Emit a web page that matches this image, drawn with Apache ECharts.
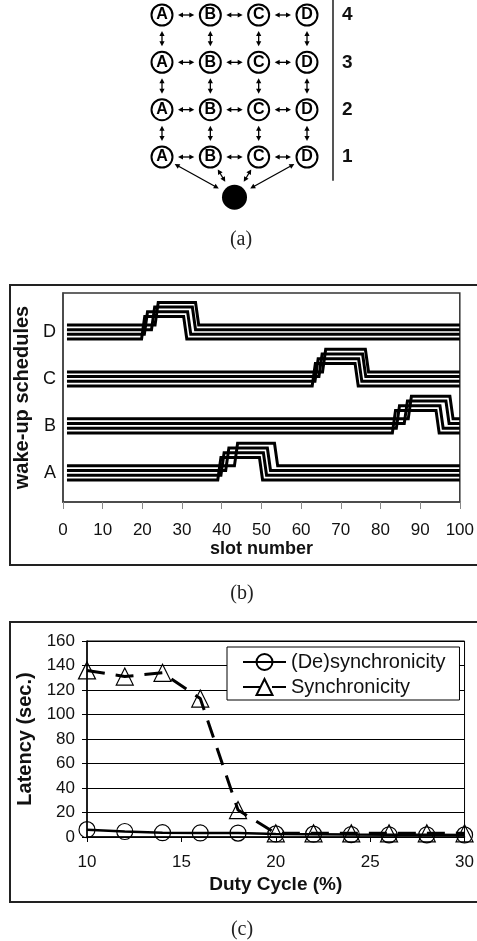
<!DOCTYPE html>
<html><head><meta charset="utf-8">
<script src="https://cdn.jsdelivr.net/npm/echarts@6/dist/echarts.min.js"></script>
<style>html,body{margin:0;padding:0;background:#fff;overflow:hidden}#c{width:477px;height:941px}</style>
</head><body><div id="c"></div>
<script>
// ---------- Panel (a): grid topology ----------
const nodeColumns = ['A', 'B', 'C', 'D'];
const nodeRows = [1, 2, 3, 4];
const sinkPosition = [2.5, 0.15];

// ---------- Panel (b): wake-up schedules ----------
const scheduleGroups = ['A', 'B', 'C', 'D'];
const slotTicks = [0, 100, 10];
const slotFirst = 1;
const slotLast = 100;
// rise / fall slot for each of the 4 nodes of a column (bottom line -> top line)
const riseA = [39, 39.8, 41, 43.2];
const fallA = [49.5, 50.5, 51.5, 53.3];
const riseB = [83, 84, 86, 87];
const fallB = [94, 95, 96.5, 97.5];
const riseC = [62.8, 63.5, 64.5, 65.4];
const fallC = [73.6, 74.5, 75.5, 76.2];
const riseD = [19.8, 20.5, 22.3, 23.2];
const fallD = [30.4, 31.4, 32.6, 33.4];

// ---------- Panel (c): latency ----------
const dutyCycle = [10, 12, 14, 16, 18, 20, 22, 24, 26, 28, 30];
const desyncLatency = [6, 4.5, 3.5, 3.3, 3.2, 2.5, 2.3, 2, 1.8, 1.8, 1.7];
const syncLatency = [136, 131, 134, 113, 22, 3, 3, 3, 3, 3, 3];
const seriesNames = ['(De)synchronicity', 'Synchronicity'];

const FONT = '"Liberation Sans", Arial, sans-serif';

// ---- build panel (a) data ----
const nodeData = [];
nodeRows.forEach(r => nodeColumns.forEach((name, i) => nodeData.push([i + 1, r, name])));
const edgeData = [];
nodeRows.forEach(r => { for (let c = 1; c < nodeColumns.length; c++) edgeData.push([c, r, c + 1, r, 0]); });
nodeColumns.forEach((_, i) => { for (let k = 0; k < nodeRows.length - 1; k++) edgeData.push([i + 1, nodeRows[k], i + 1, nodeRows[k + 1], 0]); });
nodeColumns.forEach((_, i) => edgeData.push([i + 1, nodeRows[0], sinkPosition[0], sinkPosition[1], 1]));

// ---- build panel (b) series ----
const groupRise = [riseA, riseB, riseC, riseD];
const groupFall = [fallA, fallB, fallC, fallD];
const lineOffsets = [-0.15, -0.05, 0.05, 0.15];
const pulseHeight = 0.48;
const ramp = 0.8;
const scheduleSeries = [];
scheduleGroups.forEach((g, gi) => {
  lineOffsets.forEach((off, k) => {
    const base = gi + 1 + off, top = base + pulseHeight;
    const r = groupRise[gi][k], f = groupFall[gi][k];
    scheduleSeries.push({
      type: 'line', xAxisIndex: 1, yAxisIndex: 1, symbol: 'none', silent: true,
      lineStyle: { color: '#000', width: 3, cap: 'butt', join: 'miter' },
      data: [[slotFirst, base], [r, base], [r + ramp, top], [f, top], [f + ramp, base], [slotLast, base]]
    });
  });
});

const chart = echarts.init(document.getElementById('c'), null, { renderer: 'canvas' });

chart.setOption({
  animation: false,
  backgroundColor: '#fff',
  textStyle: { fontFamily: FONT },
  grid: [
    { left: 137.83, top: 0, width: 195.27, height: 180 },
    { left: 63, top: 293, width: 402, height: 209, show: true, borderColor: '#333', borderWidth: 1.5 },
    { left: 87, top: 641, width: 383, height: 196, show: true, borderColor: '#000', borderWidth: 1 }
  ],
  xAxis: [
    { gridIndex: 0, type: 'value', min: 0.5, max: 4.54, show: false },
    {
      gridIndex: 1, type: 'value', min: slotTicks[0], max: slotTicks[1], interval: slotTicks[2],
      axisLine: { show: true, lineStyle: { color: '#444', width: 1.5 } },
      axisTick: { show: true, length: 7, lineStyle: { color: '#888' } },
      axisLabel: { fontSize: 17, color: '#111', margin: 20, fontFamily: FONT },
      splitLine: { show: false },
      name: 'slot number', nameLocation: 'middle', nameGap: 37,
      nameTextStyle: { fontSize: 18, fontWeight: 'bold', color: '#111', fontFamily: FONT }
    },
    {
      gridIndex: 2, type: 'value', min: 10, max: 30, interval: 5,
      axisLine: { show: true, onZero: true, lineStyle: { color: '#000', width: 1.5 } },
      axisTick: { show: true, length: 5, lineStyle: { color: '#000' } },
      axisLabel: { fontSize: 17, color: '#111', margin: 17, fontFamily: FONT },
      splitLine: { show: false },
      name: 'Duty Cycle (%)', nameLocation: 'middle', nameGap: 38,
      nameTextStyle: { fontSize: 19, fontWeight: 'bold', color: '#111', fontFamily: FONT }
    }
  ],
  yAxis: [
    {
      gridIndex: 0, type: 'value', min: 0.514, max: 4.317, position: 'right',
      axisLine: { show: true, lineStyle: { color: '#555', width: 2 } },
      axisTick: { show: false }, splitLine: { show: false },
      axisLabel: { customValues: nodeRows, fontSize: 19, fontWeight: 'bold', color: '#111', margin: 9, fontFamily: FONT }
    },
    {
      gridIndex: 1, type: 'value', min: 0.38, max: 4.83,
      axisLine: { show: true, lineStyle: { color: '#444', width: 1.5 } },
      axisTick: { show: false }, splitLine: { show: false },
      axisLabel: { customValues: [1, 2, 3, 4], formatter: v => scheduleGroups[Math.round(v) - 1], fontSize: 18, color: '#111', margin: 7, fontFamily: FONT },
      name: 'wake-up schedules', nameLocation: 'middle', nameRotate: 90, nameGap: 27,
      nameTextStyle: { fontSize: 20, fontWeight: 'bold', color: '#111', fontFamily: FONT }
    },
    {
      gridIndex: 2, type: 'value', min: 0, max: 160, interval: 20,
      axisLine: { show: true, lineStyle: { color: '#000', width: 1.5 } },
      axisTick: { show: true, length: 5, lineStyle: { color: '#000' } },
      splitLine: { show: true, lineStyle: { color: '#000', width: 1 } },
      axisLabel: { fontSize: 17, color: '#111', margin: 12, fontFamily: FONT },
      name: 'Latency (sec.)', nameLocation: 'middle', nameRotate: 90, nameGap: 50,
      nameTextStyle: { fontSize: 20, fontWeight: 'bold', color: '#111', fontFamily: FONT }
    }
  ],
  legend: {
    data: seriesNames, orient: 'vertical', left: 227, top: 647,
    itemWidth: 43, itemHeight: 20, itemGap: 3, padding: [4, 14, 2, 15],
    backgroundColor: '#fff', borderColor: '#000', borderWidth: 1, borderRadius: 0,
    textStyle: { fontSize: 20, color: '#111', fontFamily: FONT, lineHeight: 22 }
  },
  graphic: [
    { type: 'rect', silent: true, shape: { x: 10, y: 285, width: 480, height: 280 }, style: { fill: 'none', stroke: '#222', lineWidth: 2 } },
    { type: 'rect', silent: true, shape: { x: 10, y: 622, width: 480, height: 280 }, style: { fill: 'none', stroke: '#222', lineWidth: 2 } },
    { type: 'text', silent: true, style: { text: '(a)', x: 241, y: 240, align: 'center', verticalAlign: 'middle', textAlign: 'center', textVerticalAlign: 'middle', fontSize: 20, fontFamily: '"Liberation Serif", "Times New Roman", serif', fill: '#222' } },
    { type: 'text', silent: true, style: { text: '(b)', x: 242, y: 594, align: 'center', verticalAlign: 'middle', textAlign: 'center', textVerticalAlign: 'middle', fontSize: 20, fontFamily: '"Liberation Serif", "Times New Roman", serif', fill: '#222' } },
    { type: 'text', silent: true, style: { text: '(c)', x: 242, y: 930, align: 'center', verticalAlign: 'middle', textAlign: 'center', textVerticalAlign: 'middle', fontSize: 20, fontFamily: '"Liberation Serif", "Times New Roman", serif', fill: '#222' } }
  ],
  series: [
    {
      type: 'custom', xAxisIndex: 0, yAxisIndex: 0, clip: false, silent: true,
      encode: { x: [0, 2], y: [1, 3] },
      data: edgeData,
      renderItem: function (params, api) {
        const a = api.coord([api.value(0), api.value(1)]);
        const b = api.coord([api.value(2), api.value(3)]);
        const toSink = api.value(4) === 1;
        const ra = toSink ? 14.5 : 16, rb = toSink ? 18 : 16;
        const dx = b[0] - a[0], dy = b[1] - a[1], L = Math.hypot(dx, dy);
        const ux = dx / L, uy = dy / L, px = -uy, py = ux;
        const s = [a[0] + ux * ra, a[1] + uy * ra], e = [b[0] - ux * rb, b[1] - uy * rb];
        const hl = 5, hw = 2.6;
        const head = (tip, dir) => [tip,
          [tip[0] - dir * ux * hl + px * hw, tip[1] - dir * uy * hl + py * hw],
          [tip[0] - dir * ux * hl - px * hw, tip[1] - dir * uy * hl - py * hw]];
        return {
          type: 'group', children: [
            { type: 'line', shape: { x1: s[0] + ux * 3, y1: s[1] + uy * 3, x2: e[0] - ux * 3, y2: e[1] - uy * 3 }, style: { stroke: '#000', lineWidth: 1.3 } },
            { type: 'polygon', shape: { points: head(e, 1) }, style: { fill: '#000' } },
            { type: 'polygon', shape: { points: head(s, -1) }, style: { fill: '#000' } }
          ]
        };
      }
    },
    {
      type: 'scatter', xAxisIndex: 0, yAxisIndex: 0, clip: false, silent: true,
      symbol: 'circle', symbolSize: 21,
      itemStyle: { color: '#fff', borderColor: '#000', borderWidth: 2, opacity: 1 },
      label: { show: true, position: 'inside', formatter: p => p.value[2], fontSize: 16, fontWeight: 'bold', color: '#000', fontFamily: FONT },
      data: nodeData, z: 3
    },
    {
      type: 'scatter', xAxisIndex: 0, yAxisIndex: 0, clip: false, silent: true,
      symbol: 'circle', symbolSize: 25, itemStyle: { color: '#000', opacity: 1 },
      data: [sinkPosition], z: 3
    },
    ...scheduleSeries,
    {
      name: seriesNames[0], type: 'line', xAxisIndex: 2, yAxisIndex: 2,
      data: dutyCycle.map((d, i) => [d, desyncLatency[i]]),
      symbol: 'circle', symbolSize: 16,
      lineStyle: { color: '#000', width: 2.5 },
      itemStyle: { color: 'rgba(255,255,255,0)', borderColor: '#000', borderWidth: 1.2 },
      z: 3
    },
    {
      name: seriesNames[1], type: 'line', xAxisIndex: 2, yAxisIndex: 2,
      data: dutyCycle.map((d, i) => [d, syncLatency[i]]),
      symbol: 'triangle', symbolSize: 17,
      lineStyle: { color: '#000', width: 3, type: [18, 11] },
      itemStyle: { color: 'rgba(255,255,255,0)', borderColor: '#000', borderWidth: 1.2 },
      z: 4
    }
  ]
});
</script>
</body></html>
